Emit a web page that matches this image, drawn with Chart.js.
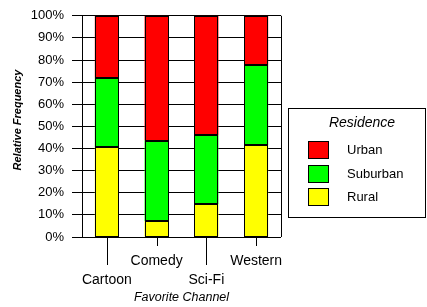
<!DOCTYPE html>
<html>
<head>
<meta charset="utf-8">
<script src="https://cdn.jsdelivr.net/npm/chart.js@4.4.1/dist/chart.umd.min.js"></script>
<style>
  html, body { margin: 0; padding: 0; background: #fff; }
</style>
</head>
<body>
<canvas id="chart" width="427" height="307"></canvas>
<script>
// data (percent of each channel)
const channels = ["Cartoon", "Comedy", "Sci-Fi", "Western"];
const rural = [40.5, 7.2, 14.8, 41.6];
const suburban = [31.5, 36.4, 31.2, 36.2];
const urban = [28.0, 56.4, 54.0, 22.2];

Chart.defaults.font.family = '"Liberation Sans", Arial, sans-serif';
Chart.defaults.color = "#000";

// crisp black outline round every bar segment
const barOutline = {
  id: "barOutline",
  afterDatasetsDraw(chart) {
    const { ctx } = chart;
    ctx.save();
    ctx.strokeStyle = "#000";
    ctx.lineWidth = 1;
    chart.data.datasets.forEach((d, i) => {
      chart.getDatasetMeta(i).data.forEach((bar) => {
        const l = Math.round(bar.x - bar.width / 2) + 0.5;
        const r = Math.round(bar.x + bar.width / 2) - 0.5;
        const t = Math.round(bar.y) + 0.5;
        const b = Math.round(bar.base) - 0.5;
        ctx.strokeRect(l, t, r - l, b - t);
      });
    });
    ctx.restore();
  }
};

// long / short tick marks under each bar, right frame line, y title
const axisExtras = {
  id: "axisExtras",
  afterDraw(chart) {
    const { ctx, chartArea } = chart;
    const xs = chart.scales.x;
    ctx.save();
    ctx.strokeStyle = "#000";
    ctx.lineWidth = 1;
    ctx.beginPath();
    channels.forEach((c, i) => {
      const x = Math.round(xs.getPixelForValue(i)) + 0.5;
      const len = i % 2 === 0 ? 28 : 9;
      ctx.moveTo(x, chartArea.bottom);
      ctx.lineTo(x, chartArea.bottom + len);
    });
    const r = Math.round(chartArea.right) + 0.5;
    ctx.moveTo(r, chartArea.top);
    ctx.lineTo(r, chartArea.bottom);
    ctx.stroke();

    ctx.translate(18, 120);
    ctx.rotate(-Math.PI / 2);
    ctx.fillStyle = "#000";
    ctx.textAlign = "center";
    ctx.textBaseline = "middle";
    ctx.font = 'italic bold 11px "Liberation Sans", Arial, sans-serif';
    ctx.fillText("Relative Frequency", 0, 0);
    ctx.restore();
  }
};

// boxed legend on the right
const boxLegend = {
  id: "boxLegend",
  afterDraw(chart) {
    const { ctx } = chart;
    ctx.save();
    ctx.strokeStyle = "#000";
    ctx.lineWidth = 1;
    ctx.strokeRect(288.5, 108.5, 137, 109);
    ctx.fillStyle = "#000";
    ctx.textAlign = "center";
    ctx.textBaseline = "middle";
    ctx.font = 'italic 14px "Liberation Sans", Arial, sans-serif';
    ctx.fillText("Residence", 362, 123);
    ctx.textAlign = "left";
    ctx.font = '13px "Liberation Sans", Arial, sans-serif';
    const ds = chart.data.datasets.slice().reverse();
    ds.forEach((d, i) => {
      const y = Math.round(141 + i * 23.5);
      ctx.fillStyle = d.backgroundColor;
      ctx.fillRect(308, y, 21, 17);
      ctx.strokeRect(308.5, y + 0.5, 20, 17);
      ctx.fillStyle = "#000";
      ctx.fillText(d.label, 347, y + 9);
    });
    ctx.restore();
  }
};

new Chart(document.getElementById("chart"), {
  type: "bar",
  data: {
    labels: channels,
    datasets: [
      { label: "Rural", data: rural, backgroundColor: "#ffff00" },
      { label: "Suburban", data: suburban, backgroundColor: "#00ff00" },
      { label: "Urban", data: urban, backgroundColor: "#ff0000" }
    ]
  },
  options: {
    responsive: false,
    animation: false,
    layout: { padding: { left: 0, top: 15, right: 146, bottom: 0 } },
    datasets: {
      bar: {
        borderWidth: 0,
        inflateAmount: 0,
        barPercentage: 0.97,
        categoryPercentage: 0.5
      }
    },
    plugins: {
      legend: { display: false },
      tooltip: { enabled: false }
    },
    scales: {
      x: {
        stacked: true,
        grid: { display: false },
        border: { display: false },
        ticks: {
          maxRotation: 0,
          autoSkip: false,
          padding: 7,
          font: { size: 14, lineHeight: 19 / 14 },
          callback: (v, i) => (i % 2 === 0 ? ["", channels[i]] : channels[i])
        },
        title: {
          display: true,
          text: "Favorite Channel",
          font: { size: 12.5, style: "italic" },
          padding: { top: 0, bottom: 2 }
        },
        afterFit: (s) => { s.height = 70; }
      },
      y: {
        stacked: true,
        min: 0,
        max: 100,
        grid: { color: "#000", lineWidth: 1, tickLength: 10 },
        border: { display: true, color: "#000", width: 1 },
        ticks: {
          stepSize: 10,
          padding: 8,
          font: { size: 13 },
          callback: (v) => v + "%"
        },
        title: { display: false },
        afterFit: (s) => { s.width = 82; }
      }
    }
  },
  plugins: [barOutline, axisExtras, boxLegend]
});
</script>
</body>
</html>
